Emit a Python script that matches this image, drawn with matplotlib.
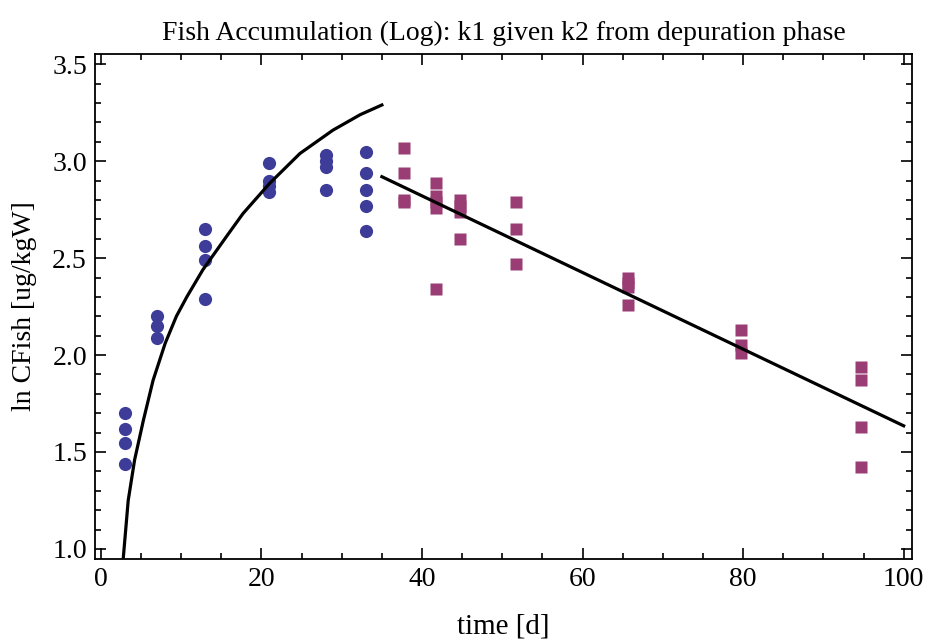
import matplotlib
matplotlib.use("Agg")
import matplotlib.pyplot as plt
from matplotlib.ticker import MultipleLocator

plt.rcParams['font.family'] = ['Liberation Serif', 'DejaVu Serif']

# uptake phase measurements (blue circles)
t_up = [3, 3, 3, 3,
        7, 7, 7,
        13, 13, 13, 13,
        21, 21, 21, 21,
        28, 28, 28, 28,
        33, 33, 33, 33, 33]
y_up = [1.70, 1.62, 1.545, 1.44,
        2.20, 2.15, 2.09,
        2.65, 2.56, 2.49, 2.29,
        2.99, 2.90, 2.87, 2.84,
        3.03, 3.00, 2.97, 2.85,
        3.05, 2.94, 2.85, 2.77, 2.64]

# depuration phase measurements (purple squares)
t_dep = [37.7, 37.7, 37.7, 37.7,
         41.7, 41.7, 41.7, 41.7, 41.7,
         44.7, 44.7, 44.7, 44.7,
         51.7, 51.7, 51.7,
         65.7, 65.7, 65.7, 65.7,
         79.7, 79.7, 79.7,
         94.7, 94.7, 94.7, 94.7]
y_dep = [3.07, 2.94, 2.80, 2.79,
         2.89, 2.82, 2.79, 2.76, 2.34,
         2.80, 2.77, 2.74, 2.60,
         2.79, 2.65, 2.47,
         2.40, 2.37, 2.35, 2.26,
         2.13, 2.05, 2.01,
         1.94, 1.87, 1.63, 1.42]

# fitted curves
t_fit_up = [2.78, 3.4, 4.2, 5.3, 6.5, 8.0, 9.4, 10.7, 12.7, 15.7, 17.7,
            21.0, 24.8, 28.9, 32.3, 35.0]
y_fit_up = [0.95, 1.25, 1.46, 1.665, 1.87, 2.06, 2.20, 2.30, 2.44, 2.615, 2.73,
            2.885, 3.04, 3.16, 3.24, 3.29]
t_fit_dep = [35.0, 100.0]
y_fit_dep = [2.92, 1.635]

fig = plt.figure(figsize=(9.27, 6.39), dpi=100)
ax = fig.add_axes([0.1028, 0.1252, 0.8807, 0.7903])

ax.plot(t_up, y_up, 'o', color='#3d3d99', ms=9.5, mec='none', zorder=3)
ax.plot(t_dep, y_dep, 's', color='#993d74', ms=8, mec='none', zorder=3)
ax.plot(t_fit_up, y_fit_up, '-', color='black', lw=2.3, zorder=4,
        solid_joinstyle='round')
ax.plot(t_fit_dep, y_fit_dep, '-', color='black', lw=2.3, zorder=4)

ax.set_xlim(-0.7, 101)
ax.set_ylim(0.948, 3.553)

ax.xaxis.set_major_locator(MultipleLocator(20))
ax.xaxis.set_minor_locator(MultipleLocator(5))
ax.yaxis.set_major_locator(MultipleLocator(0.5))
ax.yaxis.set_minor_locator(MultipleLocator(0.1))
ax.yaxis.set_major_formatter(plt.FormatStrFormatter('%.1f'))
ax.tick_params(which='both', direction='in', top=True, right=True, width=1.2)
ax.tick_params(which='major', length=8, labelsize=20)
ax.tick_params(axis='x', which='major', pad=6)
ax.tick_params(axis='y', which='major', pad=6)
ax.tick_params(which='minor', length=4.5)
for s in ax.spines.values():
    s.set_linewidth(1.3)

ax.set_title('Fish Accumulation (Log): k1 given k2 from depuration phase',
             fontsize=20, pad=10)
ax.set_xlabel('time [d]', fontsize=21, labelpad=15)
ax.set_ylabel('ln CFish [ug/kgW]', fontsize=20, labelpad=11)

fig.savefig('out.png', dpi=100)
